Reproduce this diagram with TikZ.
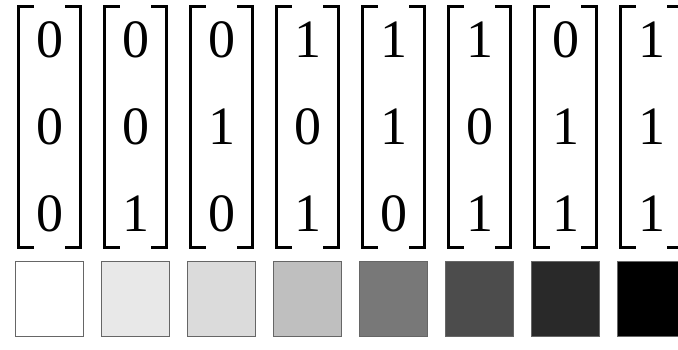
\documentclass[tikz,border=0pt]{standalone}
\usepackage{fontspec}
\setmainfont{Liberation Serif}
\begin{document}
\begin{tikzpicture}[x=1pt, y=-1pt,
        vec/.style={
            minimum width=61pt, minimum height=241pt, inner sep=0pt,
            align=center, font=\fontsize{54}{87}\selectfont
        },
        bracket/.style={line width=3pt},
        swatch/.style={
            draw=black!60, line width=0.8pt,
            minimum width=68pt, minimum height=75pt, inner sep=0pt
        }
    ]
    \useasboundingbox (0,0) rectangle (678,349);
    \clip (0,0) rectangle (678,349);

    % bit vectors
    \node[vec] (v1) at (49.5, 127) {0\\0\\0};
    \node[vec] (v2) at (135.5, 127) {0\\0\\1};
    \node[vec] (v3) at (221.5, 127) {0\\1\\0};
    \node[vec] (v4) at (307.5, 127) {1\\0\\1};
    \node[vec] (v5) at (393.5, 127) {1\\1\\0};
    \node[vec] (v6) at (479.5, 127) {1\\0\\1};
    \node[vec] (v7) at (565.5, 127) {0\\1\\1};
    \node[vec] (v8) at (651.5, 127) {1\\1\\1};

    % brackets around each vector
    \foreach \v in {v1,v2,v3,v4,v5,v6,v7,v8} {
        \draw[bracket] ([xshift=15pt]\v.north west) -- (\v.north west)
            -- (\v.south west) -- ([xshift=15pt]\v.south west);
        \draw[bracket] ([xshift=-15pt]\v.north east) -- (\v.north east)
            -- (\v.south east) -- ([xshift=-15pt]\v.south east);
    }

    % gray levels
    \node[swatch, fill=white] (s1) at (49.5, 298.5) {};
    \node[swatch, fill=black!9] (s2) at (135.5, 298.5) {};
    \node[swatch, fill=black!14] (s3) at (221.5, 298.5) {};
    \node[swatch, fill=black!25] (s4) at (307.5, 298.5) {};
    \node[swatch, fill=black!53] (s5) at (393.5, 298.5) {};
    \node[swatch, fill=black!70] (s6) at (479.5, 298.5) {};
    \node[swatch, fill=black!84] (s7) at (565.5, 298.5) {};
    \node[swatch, fill=black] (s8) at (651.5, 298.5) {};
\end{tikzpicture}
\end{document}
